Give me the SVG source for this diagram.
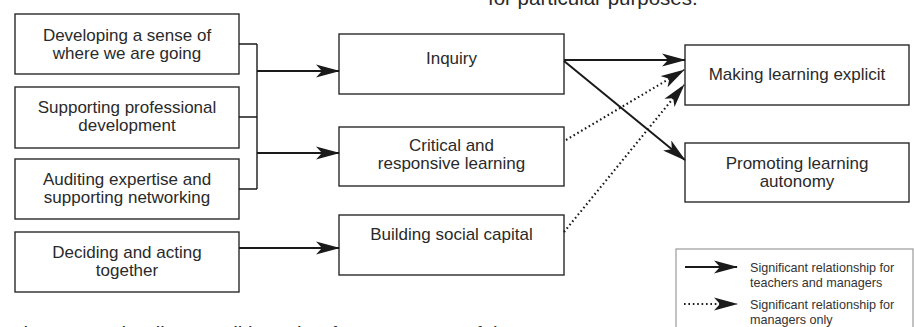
<svg xmlns="http://www.w3.org/2000/svg" width="914" height="327" viewBox="0 0 914 327">
<style>
  .box { fill: #ffffff; stroke: #2a2a2a; stroke-width: 1.4; }
  .lbl { font-family: "Liberation Sans", Arial, sans-serif; font-size: 17px; fill: #2a2a2a; text-anchor: middle; }
  .cap { font-family: "Liberation Sans", Arial, sans-serif; font-size: 20.5px; fill: #2a2a2a; }
  .leg { font-family: "Liberation Sans", Arial, sans-serif; font-size: 12.6px; fill: #333333; }
  .bracket { fill: none; stroke: #1a1a1a; stroke-width: 1.4; }
  .solid { fill: none; stroke: #1a1a1a; stroke-width: 2; marker-end: url(#arrow); }
  .dotted { fill: none; stroke: #1a1a1a; stroke-width: 2.1; stroke-dasharray: 1.6 2.8; marker-end: url(#arrow); }
</style>
<defs>
  <marker id="arrow" markerUnits="userSpaceOnUse" markerWidth="24" markerHeight="14" viewBox="0 0 24 14" refX="23" refY="7" orient="auto">
    <path d="M0,0.5 L24,7 L0,13.5 L6,7 Z" fill="#1a1a1a"/>
  </marker>
</defs>

<text class="cap" x="488" y="5">for particular purposes.</text>

<g id="node-developing">
  <rect class="box" x="15" y="14" width="224" height="60"/>
  <text class="lbl" x="127" y="40.5">Developing a sense of</text>
  <text class="lbl" x="127" y="59">where we are going</text>
</g>
<g id="node-supporting">
  <rect class="box" x="15" y="87" width="224" height="61"/>
  <text class="lbl" x="127" y="112.5">Supporting professional</text>
  <text class="lbl" x="127" y="131">development</text>
</g>
<g id="node-auditing">
  <rect class="box" x="15" y="159" width="224" height="60"/>
  <text class="lbl" x="127" y="184.5">Auditing expertise and</text>
  <text class="lbl" x="127" y="203">supporting networking</text>
</g>
<g id="node-deciding">
  <rect class="box" x="15" y="232" width="224" height="60"/>
  <text class="lbl" x="127" y="257.5">Deciding and acting</text>
  <text class="lbl" x="127" y="276">together</text>
</g>

<g id="node-inquiry">
  <rect class="box" x="339" y="34" width="225" height="60"/>
  <text class="lbl" x="451.5" y="64">Inquiry</text>
</g>
<g id="node-critical">
  <rect class="box" x="339" y="127" width="225" height="59"/>
  <text class="lbl" x="451.5" y="151">Critical and</text>
  <text class="lbl" x="451.5" y="169">responsive learning</text>
</g>
<g id="node-building">
  <rect class="box" x="339" y="215" width="225" height="60"/>
  <text class="lbl" x="451.5" y="240">Building social capital</text>
</g>

<g id="node-explicit">
  <rect class="box" x="685" y="45" width="224" height="60"/>
  <text class="lbl" x="797" y="80">Making learning explicit</text>
</g>
<g id="node-autonomy">
  <rect class="box" x="685" y="143" width="224" height="59"/>
  <text class="lbl" x="797" y="168.5">Promoting learning</text>
  <text class="lbl" x="797" y="187">autonomy</text>
</g>

<g id="connectors">
  <path class="bracket" d="M239,44 H257 M239,117 H257 M239,189 H257 M257,44 V189"/>
  <path class="solid" d="M257,71 H339"/>
  <path class="solid" d="M257,153 H339"/>
  <path class="solid" d="M239,248 H339"/>
  <path class="solid" d="M564,60 H685"/>
  <path class="solid" d="M564,61 L685,160"/>
  <path class="dotted" d="M566,140 L684,70"/>
  <path class="dotted" d="M564,232 L684,85"/>
</g>

<g id="legend">
  <rect x="676" y="249" width="237" height="90" fill="#ffffff" stroke="#9a9a9a" stroke-width="1.2"/>
  <path class="solid" d="M685,267 H737"/>
  <path class="dotted" d="M684,304 H737"/>
  <text class="leg" x="750" y="272">Significant relationship for</text>
  <text class="leg" x="750" y="287">teachers and managers</text>
  <text class="leg" x="750" y="309">Significant relationship for</text>
  <text class="leg" x="750" y="323.5">managers only</text>
</g>

<text class="cap" x="11" y="341">Figure 6: Schooling conditions that foster aspects of the</text>
</svg>
